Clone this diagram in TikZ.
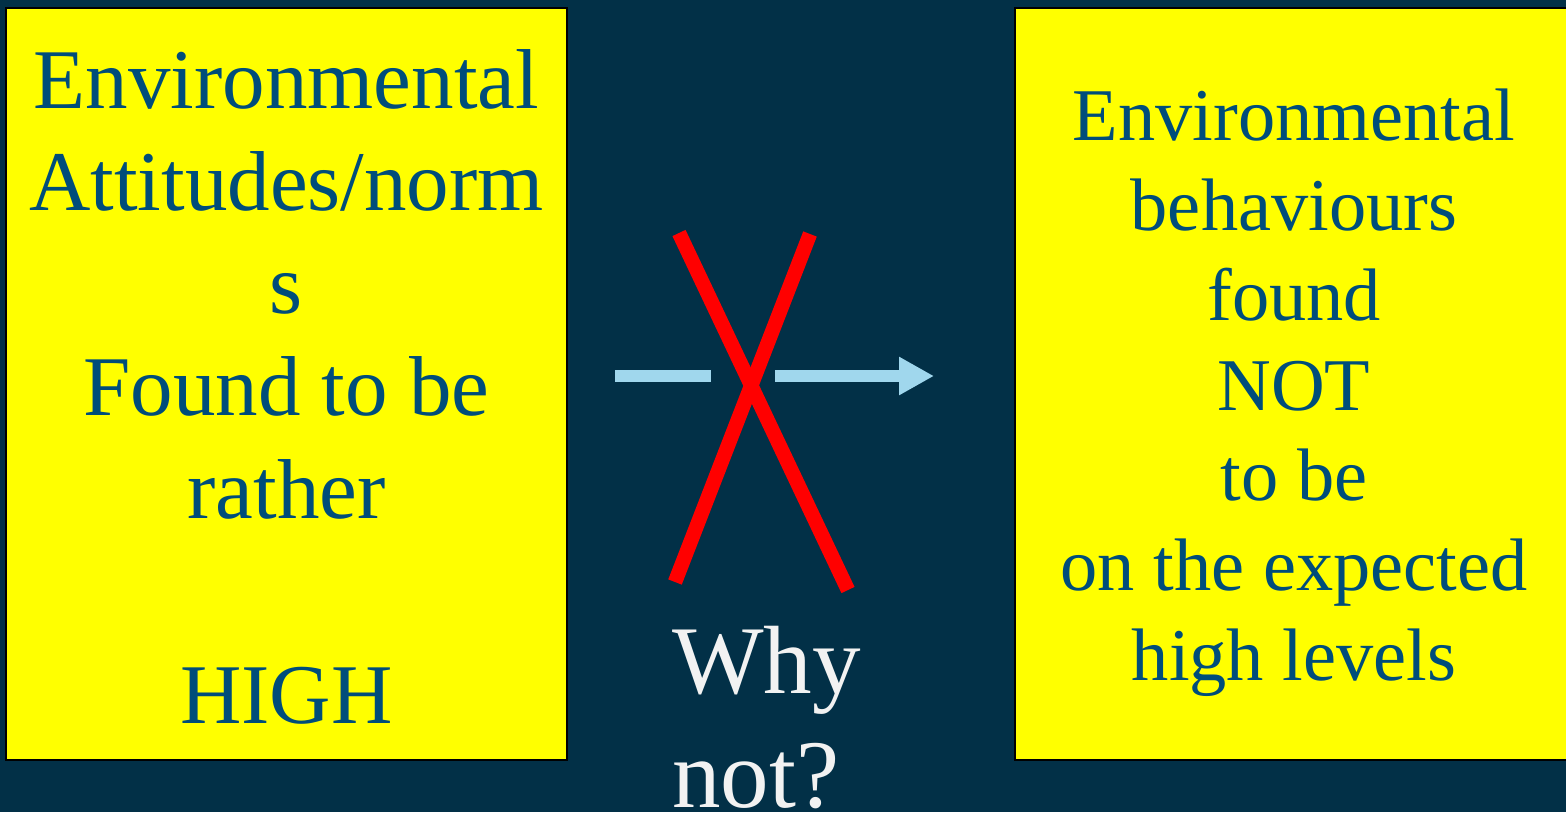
\documentclass[tikz,border=0pt]{standalone}
\usepackage{fontspec}
\setmainfont{Liberation Serif}
\usetikzlibrary{arrows.meta}
\definecolor{bgnavy}{RGB}{2,48,71}
\definecolor{txtblue}{RGB}{0,77,122}
\definecolor{arrowblue}{RGB}{160,215,237}
\definecolor{boxyellow}{RGB}{255,255,0}
\tikzset{
  box/.style={fill=boxyellow, draw=black, line width=2pt},
  boxtext/.style={text=txtblue, align=center, inner sep=0pt},
  flow/.style={draw=arrowblue, line width=12pt},
  cross/.style={draw=red, line width=14.5pt},
}
\begin{document}
\begin{tikzpicture}[x=1pt,y=-1pt]
\useasboundingbox[fill=bgnavy] (0,0) rectangle (1566,812);
\draw[box] (6,8) rectangle (567,760);
\draw[box] (1015,8) rectangle (1580,760);
\node[boxtext, anchor=base, font=\fontsize{85}{102.5}\selectfont] (left) at (286.5,723)
  {Environmental\\Attitudes/norm\\s\\Found to be\\rather\\[102.5pt]HIGH};
\node[boxtext, anchor=base, font=\fontsize{74.4}{90}\selectfont] (right) at (1294,680)
  {Environmental\\behaviours\\found\\NOT\\to be\\on the expected\\high levels};
\node[text=white!95!black, align=left, inner sep=0pt, anchor=base west, font=\fontsize{97}{114}\selectfont] (why) at (672,807)
  {Why\\not?};
\coordinate (a1) at (615,376);
\coordinate (a2) at (711,376);
\coordinate (b1) at (775,376);
\coordinate (b2) at (934,376);
\draw[flow] (a1) -- (a2);
\draw[flow, -{Triangle[length=35pt,width=36pt]}] (b1) -- (b2);
\coordinate (x1) at (679,233);
\coordinate (x2) at (848,590);
\coordinate (y1) at (810,234);
\coordinate (y2) at (675,582);
\draw[cross] (x1) -- (x2);
\draw[cross] (y1) -- (y2);
\end{tikzpicture}
\end{document}
